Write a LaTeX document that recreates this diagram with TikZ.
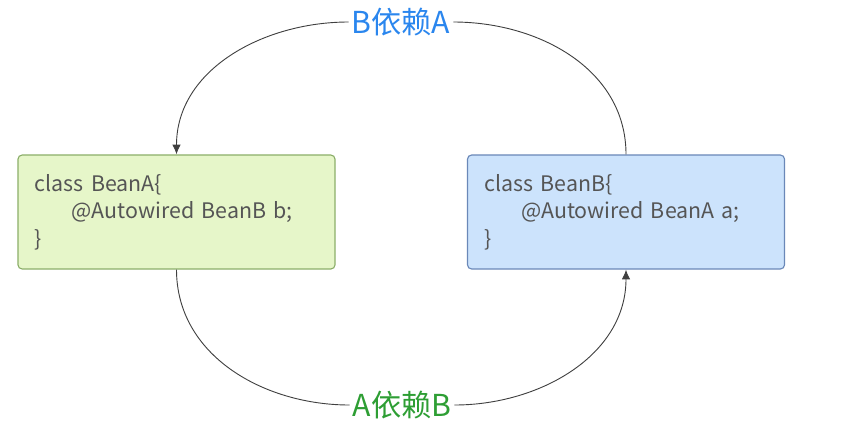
\documentclass[tikz,border=0pt]{standalone}
\usepackage{fontspec}
\setmainfont{Noto Sans CJK SC}
\usetikzlibrary{arrows.meta}

\definecolor{fillA}{HTML}{E6F6C9}
\definecolor{drawA}{HTML}{8CAE6A}
\definecolor{fillB}{HTML}{CCE3FC}
\definecolor{drawB}{HTML}{6A88B8}
\definecolor{textgray}{HTML}{555555}
\definecolor{labblue}{HTML}{2A86EE}
\definecolor{labgreen}{HTML}{2E9E34}

\tikzset{
	bean/.style={draw,rounded corners=3pt,line width=0.8pt,text=textgray,
		font=\fontsize{15.2}{19.6}\selectfont,align=left,
		text width=7.075cm,inner xsep=0.425cm,minimum height=2.85cm},
	deplabel/.style={inner xsep=2pt,inner ysep=1pt,font=\fontsize{21.5}{24}\selectfont},
	link/.style={draw=black!75,line width=0.65pt},
}

\begin{document}
\begin{tikzpicture}[x=0.025cm,y=-0.025cm]
	\useasboundingbox (0,0) rectangle (845,436);
	\node[bean,fill=fillA,draw=drawA] (beanA) at (176.5,212) {class BeanA\{\\\hspace*{26pt}@Autowired BeanB b;\\\}};
	\node[bean,fill=fillB,draw=drawB] (beanB) at (626,212) {class BeanB\{\\\hspace*{26pt}@Autowired BeanA a;\\\}};
	\node[deplabel,text=labblue] (labBA) at (401,22) {B依赖A};
	\node[deplabel,text=labgreen] (labAB) at (402,405) {A依赖B};
	% B depends on A
	\draw[link] (beanB.north) to[out=90,in=0] (labBA.east);
	\draw[link,-{Latex[length=7pt,width=6pt]}] (labBA.west) to[out=180,in=90] (beanA.north);
	% A depends on B
	\draw[link] (beanA.south) to[out=-90,in=180] (labAB.west);
	\draw[link,-{Latex[length=7pt,width=6pt]}] (labAB.east) to[out=0,in=-90] (beanB.south);
\end{tikzpicture}
\end{document}
